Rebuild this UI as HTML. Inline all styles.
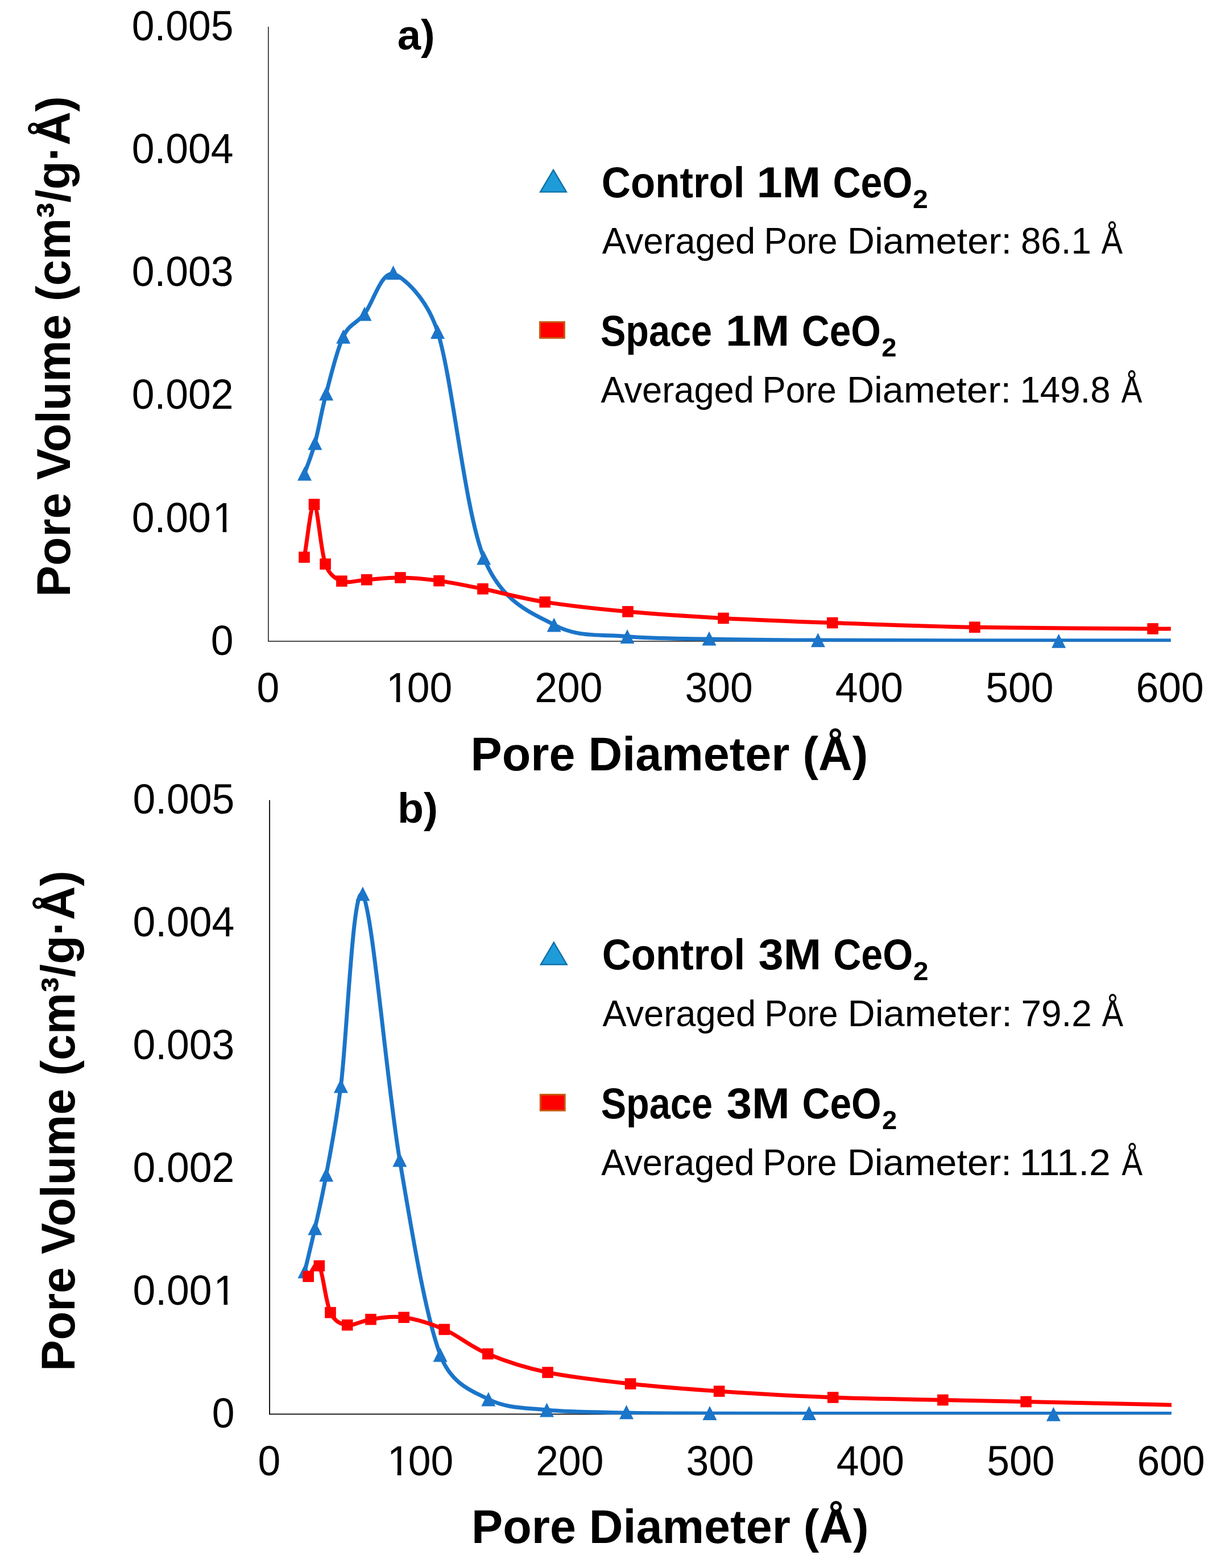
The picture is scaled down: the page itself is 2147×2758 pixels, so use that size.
<!DOCTYPE html>
<html lang="en"><head><meta charset="utf-8"><title>Pore size distribution</title>
<style>html,body{margin:0;padding:0;background:#fff}svg{display:block}text{font-family:"Liberation Sans",sans-serif;fill:#000}.tk{font-size:71.5px}.ttl{font-size:83px;font-weight:bold}.lb{font-weight:bold;font-size:75.5px}.ls{font-weight:bold;font-size:47px}.lr{font-size:64.5px}.pn{font-weight:bold;font-size:74px}</style></head><body>
<svg width="2147" height="2758" viewBox="0 0 2147 2758">
<rect width="2147" height="2758" fill="#fff"/>
<g id="chart-a">
<clipPath id="cp0"><rect x="471.85" y="27" width="1586.95" height="1101.85"/></clipPath>
<path d="M471.85,47 V1127.95 H2058.4" fill="none" stroke="#333333" stroke-width="1.7" stroke-linejoin="miter"/>
<text class="tk" transform="translate(370.83,1151.75) scale(1,1.04)">0</text>
<text class="tk" clip-path="url(#one0)" transform="translate(231.67,935.56) scale(1,1.04)">0.00<tspan dx="3">1</tspan></text>
<text class="tk" transform="translate(231.67,719.37) scale(1,1.04)">0.002</text>
<text class="tk" transform="translate(231.67,503.18) scale(1,1.04)">0.003</text>
<text class="tk" transform="translate(231.67,286.99) scale(1,1.04)">0.004</text>
<text class="tk" transform="translate(231.67,70.8) scale(1,1.04)">0.005</text>
<text class="tk" transform="translate(451.42,1235.1) scale(1,1.04)">0</text>
<text class="tk" clip-path="url(#one1)" transform="translate(675.95,1235.1) scale(1,1.04)"><tspan dx="3">1</tspan><tspan dx="-3">00</tspan></text>
<text class="tk" transform="translate(940.25,1235.1) scale(1,1.04)">200</text>
<text class="tk" transform="translate(1204.55,1235.1) scale(1,1.04)">300</text>
<text class="tk" transform="translate(1468.85,1235.1) scale(1,1.04)">400</text>
<text class="tk" transform="translate(1733.15,1235.1) scale(1,1.04)">500</text>
<text class="tk" transform="translate(1997.45,1235.1) scale(1,1.04)">600</text>
<text class="ttl" transform="translate(123,1049.76) rotate(-90) scale(0.9916,1.01)">Pore Volume (cm³/g·Å)</text>
<text class="ttl" transform="translate(827.62,1354.6) scale(0.9968,1.01)">Pore Diameter (Å)</text>
<path clip-path="url(#cp0)" d="M535.5,833 C541.63,815 547.55,802.5 553.9,779 C560.25,755.5 565.32,723.17 573.6,692 C581.88,660.83 592.37,615.33 603.6,592 C614.83,568.67 626.3,570.33 641,552 C655.7,533.67 670.38,476.75 691.8,482 C707.48,485.84 750.11,522.6 769.5,583.5 C795.98,666.67 816.58,895.08 850.7,981 C882.22,1060.38 935.35,1077.67 974.2,1099 C1016.25,1122.08 1057.53,1115.33 1103,1119.5 C1148.47,1123.67 1191.12,1122.9 1247,1124 C1299.19,1125.03 1342.65,1125.66 1438.3,1126.1 C1540.73,1126.57 1734.65,1126.68 1861.6,1126.8 C1988.55,1126.92 2087.2,1126.8 2200,1126.8" fill="none" stroke="#1b75c9" stroke-width="7.0" stroke-linejoin="round"/>
<g fill="#1b75c9"><polygon points="535.5,820.5 523,845.5 548,845.5"/><polygon points="553.9,766.5 541.4,791.5 566.4,791.5"/><polygon points="573.6,679.5 561.1,704.5 586.1,704.5"/><polygon points="603.6,579.5 591.1,604.5 616.1,604.5"/><polygon points="641,539.5 628.5,564.5 653.5,564.5"/><polygon points="691.5,466.9 679,491.9 704,491.9"/><polygon points="769.5,571 757,596 782,596"/><polygon points="850.7,968.5 838.2,993.5 863.2,993.5"/><polygon points="974.2,1086.5 961.7,1111.5 986.7,1111.5"/><polygon points="1103,1107 1090.5,1132 1115.5,1132"/><polygon points="1247,1110.4 1234.5,1135.4 1259.5,1135.4"/><polygon points="1438.3,1113.3 1425.8,1138.3 1450.8,1138.3"/><polygon points="1861.6,1114.65 1849.1,1139.65 1874.1,1139.65"/></g>
<path clip-path="url(#cp0)" d="M535,980.1 C540.83,949.13 546.32,885.2 552.5,887.2 C558.68,889.2 564.03,969.62 572.1,992.1 C579.12,1011.67 590.35,1018.1 600.9,1022.1 C613.02,1026.7 627.63,1020.72 644.8,1019.7 C661.97,1018.68 682.7,1015.68 703.9,1016 C725.1,1016.32 747.82,1018.3 772,1021.6 C796.18,1024.9 817.97,1029.58 849,1035.8 C880.03,1042.02 915.7,1052.23 958.2,1058.9 C1000.7,1065.57 1051.7,1071.05 1104,1075.8 C1156.3,1080.55 1212.05,1084.12 1272,1087.4 C1331.95,1090.68 1390.05,1092.87 1463.7,1095.5 C1537.35,1098.13 1620,1101.47 1713.9,1103.2 C1807.8,1104.93 1929.42,1105.18 2027.1,1105.9 C2124.78,1106.62 2209.03,1106.97 2300,1107.5" fill="none" stroke="#ff0000" stroke-width="7.0" stroke-linejoin="round"/>
<g fill="#ff0000"><rect x="525.2" y="970.3" width="19.6" height="19.6"/><rect x="542.7" y="877.4" width="19.6" height="19.6"/><rect x="562.3" y="982.3" width="19.6" height="19.6"/><rect x="591.1" y="1012.3" width="19.6" height="19.6"/><rect x="635" y="1009.9" width="19.6" height="19.6"/><rect x="694.1" y="1006.2" width="19.6" height="19.6"/><rect x="762.2" y="1011.8" width="19.6" height="19.6"/><rect x="839.2" y="1026" width="19.6" height="19.6"/><rect x="948.4" y="1049.1" width="19.6" height="19.6"/><rect x="1094.2" y="1066" width="19.6" height="19.6"/><rect x="1262.2" y="1077.6" width="19.6" height="19.6"/><rect x="1453.9" y="1085.7" width="19.6" height="19.6"/><rect x="1704.1" y="1093.4" width="19.6" height="19.6"/><rect x="2017.3" y="1096.1" width="19.6" height="19.6"/></g>
<text class="pn" transform="translate(698.78,87.2) scale(1.0010,1)">a)</text>
<polygon points="973,298.8 950.1,337.6 995.9,337.6" fill="#1e9cd9" stroke="#0f70a8" stroke-width="2.4" stroke-linejoin="miter"/>
<rect x="949.45" y="566.45" width="43" height="28" fill="#ff0000" stroke="#c55a11" stroke-width="2.9"/>
<text class="lb" y="346.5"><tspan x="1057.87" textLength="251.56" lengthAdjust="spacingAndGlyphs">Control</tspan> <tspan x="1330.42" textLength="112.9" lengthAdjust="spacingAndGlyphs">1M</tspan> <tspan x="1464.38" textLength="140.03" lengthAdjust="spacingAndGlyphs">CeO</tspan><tspan class="ls" x="1604.92" dy="19" textLength="26.77" lengthAdjust="spacingAndGlyphs">2</tspan></text>
<text class="lr" y="446.2"><tspan x="1058.64" textLength="269.68" lengthAdjust="spacingAndGlyphs">Averaged</tspan> <tspan x="1343.45" textLength="129.19" lengthAdjust="spacingAndGlyphs">Pore</tspan> <tspan x="1489.69" textLength="289.35" lengthAdjust="spacingAndGlyphs">Diameter:</tspan> <tspan x="1794.89" textLength="124.12" lengthAdjust="spacingAndGlyphs">86.1</tspan> <tspan x="1936.86" textLength="37.35" lengthAdjust="spacingAndGlyphs">Å</tspan></text>
<text class="lb" y="608.1"><tspan x="1055.9" textLength="196.25" lengthAdjust="spacingAndGlyphs">Space</tspan> <tspan x="1275.95" textLength="112.35" lengthAdjust="spacingAndGlyphs">1M</tspan> <tspan x="1409.79" textLength="139.09" lengthAdjust="spacingAndGlyphs">CeO</tspan><tspan class="ls" x="1550.34" dy="19.3" textLength="26.3" lengthAdjust="spacingAndGlyphs">2</tspan></text>
<text class="lr" y="707.9"><tspan x="1056.44" textLength="269.48" lengthAdjust="spacingAndGlyphs">Averaged</tspan> <tspan x="1340.51" textLength="130.25" lengthAdjust="spacingAndGlyphs">Pore</tspan> <tspan x="1488.9" textLength="289.04" lengthAdjust="spacingAndGlyphs">Diameter:</tspan> <tspan x="1793.43" textLength="159.28" lengthAdjust="spacingAndGlyphs">149.8</tspan> <tspan x="1971.76" textLength="36.55" lengthAdjust="spacingAndGlyphs">Å</tspan></text>
</g>
<g id="chart-b">
<clipPath id="cp1"><rect x="474.05" y="1387.35" width="1585.95" height="1100.65"/></clipPath>
<path d="M474.05,1407.35 V2487.4 H2059.6" fill="none" stroke="#000000" stroke-width="1.8" stroke-linejoin="miter"/>
<text class="tk" transform="translate(372.63,2511.2) scale(1,1.04)">0</text>
<text class="tk" clip-path="url(#one2)" transform="translate(233.47,2295.19) scale(1,1.04)">0.00<tspan dx="3">1</tspan></text>
<text class="tk" transform="translate(233.47,2079.18) scale(1,1.04)">0.002</text>
<text class="tk" transform="translate(233.47,1863.17) scale(1,1.04)">0.003</text>
<text class="tk" transform="translate(233.47,1647.16) scale(1,1.04)">0.004</text>
<text class="tk" transform="translate(233.47,1431.15) scale(1,1.04)">0.005</text>
<text class="tk" transform="translate(453.42,2594.6) scale(1,1.04)">0</text>
<text class="tk" clip-path="url(#one3)" transform="translate(677.95,2594.6) scale(1,1.04)"><tspan dx="3">1</tspan><tspan dx="-3">00</tspan></text>
<text class="tk" transform="translate(942.25,2594.6) scale(1,1.04)">200</text>
<text class="tk" transform="translate(1206.55,2594.6) scale(1,1.04)">300</text>
<text class="tk" transform="translate(1470.85,2594.6) scale(1,1.04)">400</text>
<text class="tk" transform="translate(1735.15,2594.6) scale(1,1.04)">500</text>
<text class="tk" transform="translate(1999.45,2594.6) scale(1,1.04)">600</text>
<text class="ttl" transform="translate(130.8,2411.75) rotate(-90) scale(0.9911,1.01)">Pore Volume (cm³/g·Å)</text>
<text class="ttl" transform="translate(829.02,2714.4) scale(0.9965,1.01)">Pore Diameter (Å)</text>
<path clip-path="url(#cp1)" d="M536,2236 C541.97,2210.67 547.62,2188.33 553.9,2160 C560.18,2131.67 566.12,2107.67 573.7,2066 C580.95,2026.17 589.22,1988.39 599.4,1910 C610.05,1828 620.37,1552.33 637.6,1574 C654.83,1595.67 680.05,1905.17 702.8,2040 C725.55,2174.83 748.1,2312.83 774.1,2383 C794.1,2436.98 834.77,2448.56 858.8,2461 C890.03,2477.17 921.05,2476 961.5,2480 C1001.95,2484 1053.75,2483.97 1101.5,2485 C1149.25,2486.03 1194.47,2485.97 1248,2486.2 C1294.42,2486.4 1335.35,2486.36 1422.7,2486.4 C1523.43,2486.45 1722.85,2486.48 1852.4,2486.5 C1981.95,2486.52 2084.13,2486.5 2200,2486.5" fill="none" stroke="#1b75c9" stroke-width="7.0" stroke-linejoin="round"/>
<g fill="#1b75c9"><polygon points="536,2223.5 523.5,2248.5 548.5,2248.5"/><polygon points="553.9,2147.5 541.4,2172.5 566.4,2172.5"/><polygon points="573.7,2053.5 561.2,2078.5 586.2,2078.5"/><polygon points="599.4,1897.5 586.9,1922.5 611.9,1922.5"/><polygon points="637.8,1559.5 625.3,1584.5 650.3,1584.5"/><polygon points="702.8,2027.5 690.3,2052.5 715.3,2052.5"/><polygon points="774.1,2370.5 761.6,2395.5 786.6,2395.5"/><polygon points="858.8,2448.5 846.3,2473.5 871.3,2473.5"/><polygon points="961.5,2467.5 949,2492.5 974,2492.5"/><polygon points="1101.5,2471.3 1089,2496.3 1114,2496.3"/><polygon points="1248,2472.9 1235.5,2497.9 1260.5,2497.9"/><polygon points="1422.7,2472.9 1410.2,2497.9 1435.2,2497.9"/><polygon points="1852.4,2474.8 1839.9,2499.8 1864.9,2499.8"/></g>
<path clip-path="url(#cp1)" d="M542.2,2245.2 C548.57,2238.97 554.83,2215.92 561.3,2226.5 C567.77,2237.08 572.77,2291.35 581,2308.7 C588.91,2325.37 599.33,2328.68 610.7,2330.6 C622.53,2332.6 635.42,2322.93 652,2320.7 C668.58,2318.47 688.67,2314.25 710.2,2317.2 C731.73,2320.15 756.6,2327.7 781.2,2338.4 C805.8,2349.1 827.48,2368.8 857.8,2381.4 C888.12,2394 921.3,2405.23 963.1,2414 C1004.9,2422.77 1058.35,2428.48 1108.6,2434 C1158.85,2439.52 1205.25,2443.1 1264.6,2447.1 C1323.95,2451.1 1399.15,2455.43 1464.7,2458 C1530.25,2460.57 1601.33,2461.25 1657.9,2462.5 C1696.54,2463.35 1731,2463.91 1804.1,2465.5 C1911.12,2467.83 2134.7,2472.83 2300,2476.5" fill="none" stroke="#ff0000" stroke-width="7.0" stroke-linejoin="round"/>
<g fill="#ff0000"><rect x="532.4" y="2235.4" width="19.6" height="19.6"/><rect x="551.5" y="2216.7" width="19.6" height="19.6"/><rect x="571.2" y="2298.9" width="19.6" height="19.6"/><rect x="600.9" y="2320.8" width="19.6" height="19.6"/><rect x="642.2" y="2310.9" width="19.6" height="19.6"/><rect x="700.4" y="2307.4" width="19.6" height="19.6"/><rect x="771.4" y="2328.6" width="19.6" height="19.6"/><rect x="848" y="2371.6" width="19.6" height="19.6"/><rect x="953.3" y="2404.2" width="19.6" height="19.6"/><rect x="1098.8" y="2424.2" width="19.6" height="19.6"/><rect x="1254.8" y="2437.3" width="19.6" height="19.6"/><rect x="1454.9" y="2448.2" width="19.6" height="19.6"/><rect x="1648.1" y="2452.7" width="19.6" height="19.6"/><rect x="1794.3" y="2455.7" width="19.6" height="19.6"/></g>
<text class="pn" transform="translate(699.11,1447) scale(1.0176,1)">b)</text>
<polygon points="973.8,1657.7 950.9,1696.5 996.7,1696.5" fill="#1e9cd9" stroke="#0f70a8" stroke-width="2.4" stroke-linejoin="miter"/>
<rect x="950.25" y="1925.35" width="43" height="28" fill="#ff0000" stroke="#c55a11" stroke-width="2.9"/>
<text class="lb" y="1705.4"><tspan x="1058.67" textLength="251.56" lengthAdjust="spacingAndGlyphs">Control</tspan> <tspan x="1333.41" textLength="110.71" lengthAdjust="spacingAndGlyphs">3M</tspan> <tspan x="1465.18" textLength="140.03" lengthAdjust="spacingAndGlyphs">CeO</tspan><tspan class="ls" x="1605.72" dy="19" textLength="26.77" lengthAdjust="spacingAndGlyphs">2</tspan></text>
<text class="lr" y="1805.1"><tspan x="1059.44" textLength="269.68" lengthAdjust="spacingAndGlyphs">Averaged</tspan> <tspan x="1344.25" textLength="129.19" lengthAdjust="spacingAndGlyphs">Pore</tspan> <tspan x="1490.49" textLength="289.35" lengthAdjust="spacingAndGlyphs">Diameter:</tspan> <tspan x="1795.45" textLength="124.33" lengthAdjust="spacingAndGlyphs">79.2</tspan> <tspan x="1937.66" textLength="37.35" lengthAdjust="spacingAndGlyphs">Å</tspan></text>
<text class="lb" y="1967"><tspan x="1056.7" textLength="196.25" lengthAdjust="spacingAndGlyphs">Space</tspan> <tspan x="1277.6" textLength="111.24" lengthAdjust="spacingAndGlyphs">3M</tspan> <tspan x="1410.59" textLength="139.09" lengthAdjust="spacingAndGlyphs">CeO</tspan><tspan class="ls" x="1551.14" dy="19.3" textLength="26.3" lengthAdjust="spacingAndGlyphs">2</tspan></text>
<text class="lr" y="2066.8"><tspan x="1057.24" textLength="269.48" lengthAdjust="spacingAndGlyphs">Averaged</tspan> <tspan x="1341.31" textLength="130.25" lengthAdjust="spacingAndGlyphs">Pore</tspan> <tspan x="1489.7" textLength="289.04" lengthAdjust="spacingAndGlyphs">Diameter:</tspan> <tspan x="1792.8" textLength="160.11" lengthAdjust="spacingAndGlyphs">111.2</tspan> <tspan x="1972.56" textLength="36.55" lengthAdjust="spacingAndGlyphs">Å</tspan></text>
</g>
<defs><clipPath id="one0"><path d="M-5,-71.5 H183.92 V-5.94 H-5 Z M159.99,-6.94 H166.61 V21.45 H159.99 Z M179.42,-6.94 H183.92 V21.45 H179.42 Z M-5,-6.94 H138.66 V21.45 H-5 Z"/></clipPath><clipPath id="one1"><path d="M-5,-71.5 H124.29 V-5.94 H-5 Z M20.83,-6.94 H27.45 V21.45 H20.83 Z M40.26,-6.94 H124.29 V21.45 H40.26 Z"/></clipPath><clipPath id="one2"><path d="M-5,-71.5 H183.92 V-5.94 H-5 Z M159.99,-6.94 H166.61 V21.45 H159.99 Z M179.42,-6.94 H183.92 V21.45 H179.42 Z M-5,-6.94 H138.66 V21.45 H-5 Z"/></clipPath><clipPath id="one3"><path d="M-5,-71.5 H124.29 V-5.94 H-5 Z M20.83,-6.94 H27.45 V21.45 H20.83 Z M40.26,-6.94 H124.29 V21.45 H40.26 Z"/></clipPath></defs>
</svg></body></html>
